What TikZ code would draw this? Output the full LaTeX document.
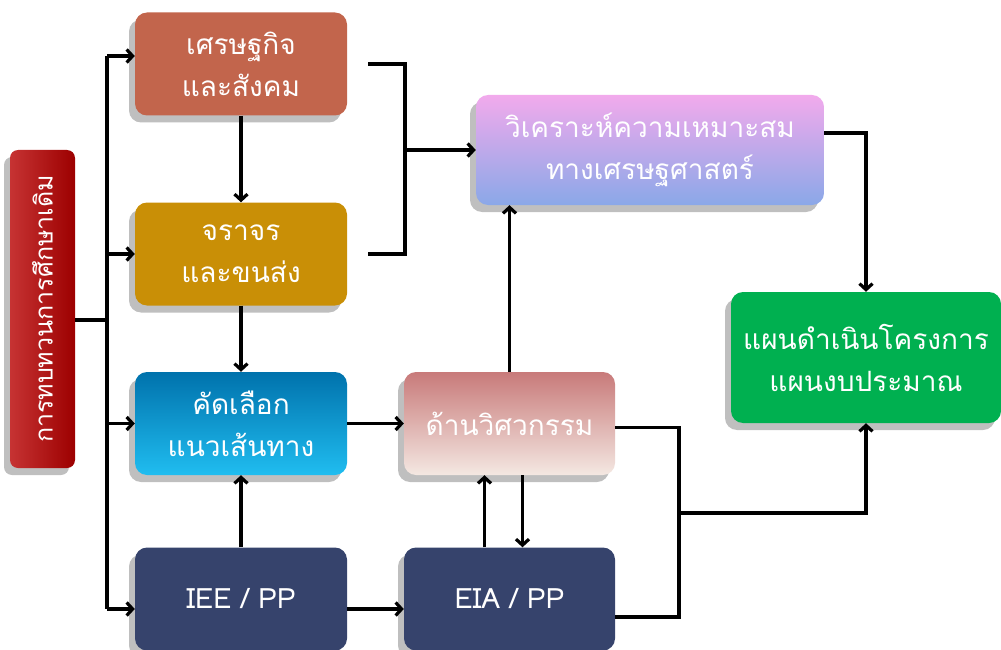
\documentclass[tikz,border=0pt]{standalone}
\usepackage{fontspec}
\setmainfont[Script=Thai]{Loma}
\usepackage{tikz}
\usetikzlibrary{arrows.meta,shapes,positioning,shadows}

\definecolor{redbox}{HTML}{B80000}
\definecolor{ecobox}{HTML}{C2654C}
\definecolor{trafbox}{HTML}{C98F06}
\definecolor{navybox}{HTML}{36436C}
\definecolor{greenbox}{HTML}{00B050}
\definecolor{routetop}{HTML}{0072AC}
\definecolor{routebot}{HTML}{20BDF0}
\definecolor{engrtop}{HTML}{C87A7A}
\definecolor{engrbot}{HTML}{F4E8E2}
\definecolor{feastop}{HTML}{F2AAEC}
\definecolor{feasbot}{HTML}{8AA8E8}

\newcommand\boxfont{\fontsize{28}{42}\selectfont}

\tikzset{
  box/.style={rounded corners=12pt, minimum width=212pt, minimum height=103pt,
    align=center, text=white, font=\boxfont,
    drop shadow={shadow xshift=-6pt, shadow yshift=-7pt, opacity=.25, fill=black}},
  link/.style={line width=3.2pt},
}

\begin{document}
\begin{tikzpicture}[
  x=1pt, y=-1pt,
  >={Straight Barb[length=6pt,width=13pt]},
  ]
  \useasboundingbox (0,0) rectangle (1001,650);

  \node[box, rotate=90, minimum width=318pt, minimum height=65pt, rounded corners=8pt,
        font=\fontsize{25}{30}\selectfont, inner sep=0pt,
        top color=redbox!80!white, bottom color=redbox!85!black, shading angle=90] (review) at (42.5,309) {การทบทวนการศึกษาเดิม};
  \node[box, fill=ecobox] (eco) at (241,64) {เศรษฐกิจ\\และสังคม};
  \node[box, fill=trafbox] (traffic) at (241,254) {จราจร\\และขนส่ง};
  \node[box, top color=routetop, bottom color=routebot] (route) at (241,423.5) {คัดเลือก\\แนวเส้นทาง};
  \node[box, fill=navybox] (iee) at (241,599) {IEE / PP};
  \node[box, minimum width=211pt, top color=engrtop, bottom color=engrbot] (engr) at (509.5,423.5) {ด้านวิศวกรรม};
  \node[box, minimum width=211pt, fill=navybox] (eia) at (509.5,599) {EIA / PP};
  \node[box, minimum width=348pt, minimum height=110pt, top color=feastop, bottom color=feasbot] (feas) at (650,150) {วิเคราะห์ความเหมาะสม\\ทางเศรษฐศาสตร์};
  \node[box, minimum width=270pt, minimum height=131pt, fill=greenbox] (plan) at (866,357.5) {แผนดำเนินโครงการ\\แผนงบประมาณ};

  \coordinate (ttop) at (107,56);
  \coordinate (tsplit) at (107,320);
  \coordinate (tbot) at (107,609);
  \coordinate (bmid) at (405,150);
  \coordinate (jn) at (679,513);

  \draw[link] (review.south |- tsplit) -- (tsplit);
  \draw[link] (ttop) -- (tbot);
  \draw[link,->] (ttop) -- (eco.west |- ttop);
  \draw[link,->] (ttop |- traffic.west) -- (traffic.west);
  \draw[link,->] (ttop |- route.west) -- (route.west);
  \draw[link,->] (tbot) -- (iee.west |- tbot);

  \draw[link,->] (eco) -- (traffic);
  \draw[link,->] (traffic) -- (route);
  \draw[link,->] (iee) -- (route);
  \draw[link,->] (route) -- (engr);
  \draw[link,->] ([yshift=-10pt]iee.east) -- ([yshift=-10pt]eia.west);

  \draw[link] ([xshift=21pt]eco.east) -| (bmid) |- ([xshift=21pt]traffic.east);
  \draw[link,->] (bmid) -- (feas.west);

  \draw[link,->] (engr.north) -- (engr.north |- feas.south);
  \draw[link,->] ([xshift=-25pt]eia.north) -- ([xshift=-25pt]engr.south);
  \draw[link,->] ([xshift=13pt]engr.south) -- ([xshift=13pt]eia.north);

  \draw[link,->] ([yshift=17pt]feas.east) -| (plan.north);
  \draw[link] ([yshift=-4pt]engr.east) -| (jn) |- ([yshift=-18pt]eia.east);
  \draw[link,->] (jn) -| (plan.south);
\end{tikzpicture}
\end{document}
